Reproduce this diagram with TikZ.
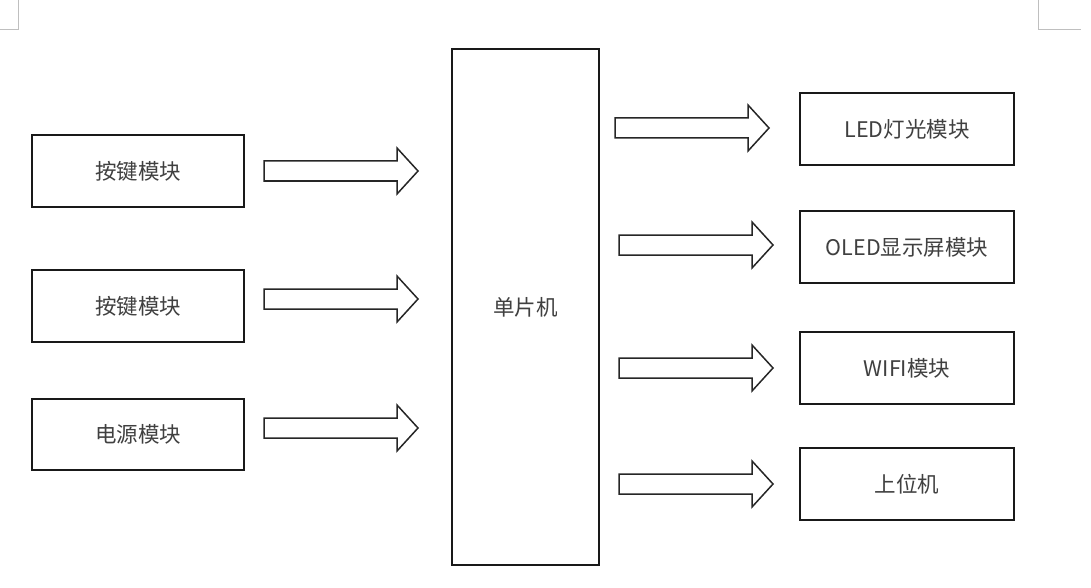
\documentclass[tikz,border=0pt]{standalone}
\usepackage{fontspec}
\setmainfont{Noto Sans CJK SC}
\begin{document}
\begin{tikzpicture}[x=1pt,y=-1pt,
  box/.style={draw=black!90,line width=2pt,fill=white,font=\fontsize{21.5}{25}\selectfont,text=black!75},
  arrowline/.style={draw=black!85,line width=1.5pt,line join=miter,fill=white},
  cornermark/.style={draw=black!25,line width=1pt}]
\useasboundingbox (0,0) rectangle (1091,588);
% corner marks
\coordinate (tl0) at (18,0);
\coordinate (tl1) at (18,30);
\coordinate (tl2) at (0,30);
\draw[cornermark] (tl0) -- (tl1) -- (tl2);
\coordinate (tr0) at (1038,0);
\coordinate (tr1) at (1038,30);
\coordinate (tr2) at (1081,30);
\draw[cornermark] (tr0) -- (tr1) -- (tr2);
% left boxes
\node[box,minimum width=212pt,minimum height=72pt] (k1) at (138,171) {按键模块};
\node[box,minimum width=212pt,minimum height=72pt] (k2) at (138,306) {按键模块};
\node[box,minimum width=212pt,minimum height=71pt] (pw) at (138,434.5) {电源模块};
% MCU
\node[box,minimum width=147pt,minimum height=516pt] (mcu) at (525.5,307) {单片机};
% right boxes
\node[box,minimum width=214pt,minimum height=72pt] (led) at (907,129) {LED灯光模块};
\node[box,minimum width=214pt,minimum height=72pt] (oled) at (907,247) {OLED显示屏模块};
\node[box,minimum width=214pt,minimum height=72pt] (wifi) at (907,368) {WIFI模块};
\node[box,minimum width=214pt,minimum height=72pt] (pc) at (907,484) {上位机};
% block arrows
\newcommand\blockarr[1]{\draw[arrowline] (#1) ++(0,-10) -- ++(133,0) -- ++(0,-13) -- ++(21,23) -- ++(-21,23) -- ++(0,-13) -- ++(-133,0) -- cycle;}
\coordinate (a1) at (264,171);
\coordinate (a2) at (264,299);
\coordinate (a3) at (264,428);
\coordinate (b1) at (615,128);
\coordinate (b2) at (619,245);
\coordinate (b3) at (619,368);
\coordinate (b4) at (619,484);
\blockarr{a1}
\blockarr{a2}
\blockarr{a3}
\blockarr{b1}
\blockarr{b2}
\blockarr{b3}
\blockarr{b4}
\end{tikzpicture}
\end{document}
